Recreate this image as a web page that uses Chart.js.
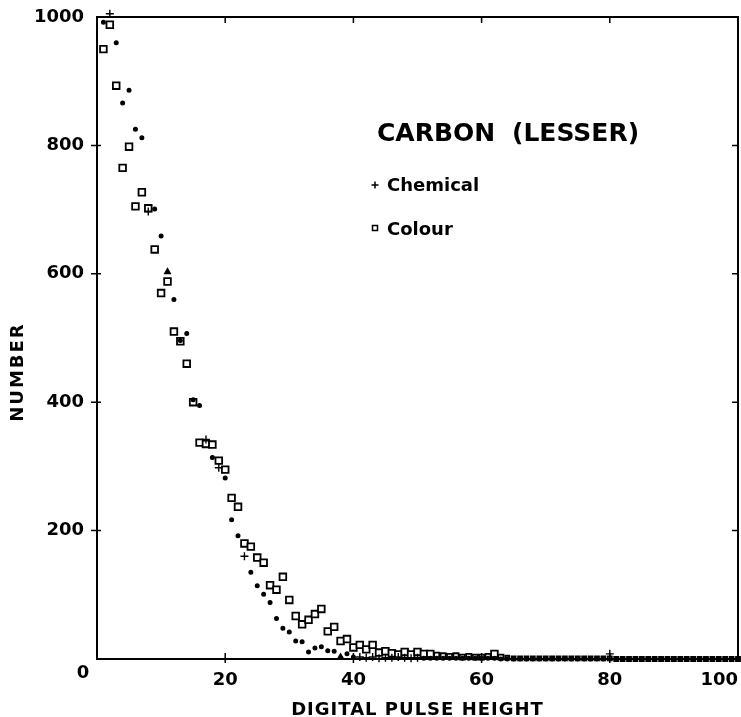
<!DOCTYPE html>
<html>
<head>
<meta charset="utf-8">
<script src="https://cdn.jsdelivr.net/npm/chart.js@4.4.0/dist/chart.umd.min.js"></script>
<style>
  html, body { margin: 0; padding: 0; background: #fff; }
</style>
</head>
<body>
<canvas id="pulseChart" width="741" height="717"></canvas>
<script>
// pulse height channels and counts per channel
var channels = [
    1, 2, 3, 4, 5, 6, 7, 8, 9, 10, 11, 12, 13, 14, 15, 16, 17, 18, 19, 20,
    21, 22, 23, 24, 25, 26, 27, 28, 29, 30, 31, 32, 33, 34, 35, 36, 37, 38, 39, 40,
    41, 42, 43, 44, 45, 46, 47, 48, 49, 50, 51, 52, 53, 54, 55, 56, 57, 58, 59, 60,
    61, 62, 63, 64, 65, 66, 67, 68, 69, 70, 71, 72, 73, 74, 75, 76, 77, 78, 79, 80,
    81, 82, 83, 84, 85, 86, 87, 88, 89, 90, 91, 92, 93, 94, 95, 96, 97, 98, 99, 100
];
var colourCounts = [
    950, 988, 893, 765, 798, 705, 727, 702, 638, 570, 588, 510, 495, 460, 400, 337, 335, 334, 309, 295,
    251, 237, 180, 175, 158, 150, 115, 108, 128, 92, 67, 54, 61, 70, 78, 43, 50, 28, 31, 18,
    22, 15, 22, 10, 12, 9, 7, 11, 7, 11, 8, 8, 6, 5, 4, 5, 3, 4, 3, 3,
    4, 8, 3, 2, 1, 1, 1, 1, 1, 1, 1, 1, 1, 1, 1, 1, 1, 1, 1, 1,
    0, 0, 0, 0, 0, 0, 0, 0, 0, 0, 0, 0, 0, 0, 0, 0, 0, 0, 0, 0
];
var chemicalCounts = [
    992, 1005, 960, 866, 886, 825, 812, 697, 701, 659, 603, 560, 496, 507, 404, 395, 342, 314, 298, 282,
    217, 192, 160, 135, 114, 101, 88, 63, 48, 42, 28, 27, 11, 17, 19, 13, 12, 3, 8, 3,
    3, 2, 3, 1, 2, 2, 3, 2, 1, 2, 1, 1, 1, 1, 1, 1, 1, 1, 1, 1,
    1, 1, 0, 0, 0, 0, 0, 0, 0, 0, 0, 0, 0, 0, 0, 0, 0, 0, 0, 8,
    0, 0, 0, 0, 0, 0, 0, 0, 0, 0, 0, 0, 0, 0, 0, 0, 0, 0, 0, 0
];
var xTicks = [0, 20, 40, 60, 80, 100];
var yTicks = [200, 400, 600, 800, 1000];

// chemical points printed as crosses / triangles, the rest are dots
var crossChannels = [2, 8, 17, 19, 23, 41, 42, 43, 44, 45, 46, 47, 48, 49, 50, 80];
var triangleChannels = [11, 38];

var FONT = '"DejaVu Sans", sans-serif';

function toPoints(values) {
    return channels.map(function (c, i) { return { x: c, y: values[i] }; });
}

var framePlugin = {
    id: 'frame',
    beforeDraw: function (chart) {
        var c = chart.ctx;
        c.save();
        c.fillStyle = '#fff';
        c.fillRect(0, 0, chart.width, chart.height);
        c.restore();
    },
    afterDraw: function (chart) {
        var c = chart.ctx, a = chart.chartArea;
        var xs = chart.scales.x, ys = chart.scales.y;
        c.save();
        c.strokeStyle = '#000';
        c.lineWidth = 2;
        c.strokeRect(a.left, a.top, a.right - a.left, a.bottom - a.top);

        // tick marks on all four sides
        c.lineWidth = 1.5;
        c.beginPath();
        yTicks.slice(0, -1).forEach(function (v) {
            var py = ys.getPixelForValue(v);
            c.moveTo(a.left - 6, py); c.lineTo(a.left + 4, py);
            c.moveTo(a.right - 6, py); c.lineTo(a.right, py);
        });
        xTicks.slice(1, -1).forEach(function (v) {
            var px = xs.getPixelForValue(v);
            c.moveTo(px, a.bottom + 4); c.lineTo(px, a.bottom - 6);
            c.moveTo(px, a.top); c.lineTo(px, a.top + 6);
        });
        c.stroke();

        c.fillStyle = '#000';
        c.textAlign = 'center';
        c.textBaseline = 'middle';
        c.font = 'bold 18px ' + FONT;
        c.fillText('0', a.left - 14, a.bottom + 14);

        // axis titles
        c.letterSpacing = '1px';
        c.fillText('DIGITAL PULSE HEIGHT', (a.left + a.right) / 2, 710);
        c.save();
        c.translate(18, 372);
        c.rotate(-Math.PI / 2);
        c.letterSpacing = '2px';
        c.fillText('NUMBER', 0, 0);
        c.restore();
        c.letterSpacing = '0px';

        // key
        c.textAlign = 'left';
        c.textBaseline = 'alphabetic';
        c.font = 'bold 25px ' + FONT;
        c.fillText('CARBON', 377, 141);
        c.fillText('(LESSER)', 512, 141);
        c.font = 'bold 18px ' + FONT;
        c.fillText('Chemical', 387, 191);
        c.fillText('Colour', 387, 235);
        Chart.helpers.drawPoint(c, { pointStyle: 'cross', radius: 3.5, rotation: 0, borderWidth: 1.5 }, 375, 185);
        c.lineWidth = 1.5;
        c.strokeRect(372.5, 225.5, 5, 5);
        c.restore();
    }
};

new Chart(document.getElementById('pulseChart'), {
    type: 'scatter',
    data: {
        datasets: [
            {
                label: 'Chemical',
                data: toPoints(chemicalCounts),
                pointStyle: function (ctx) {
                    var ch = channels[ctx.dataIndex];
                    if (crossChannels.indexOf(ch) >= 0) return 'cross';
                    if (triangleChannels.indexOf(ch) >= 0) return 'triangle';
                    return 'circle';
                },
                pointRadius: function (ctx) {
                    var ch = channels[ctx.dataIndex];
                    if (crossChannels.indexOf(ch) >= 0) return 4;
                    if (triangleChannels.indexOf(ch) >= 0) return 3.2;
                    return 1.8;
                },
                borderWidth: 1.4,
                borderColor: '#000',
                backgroundColor: '#000',
                clip: false
            },
            {
                label: 'Colour',
                data: toPoints(colourCounts),
                pointStyle: 'rect',
                pointRadius: function (ctx) {
                    var v = colourCounts[ctx.dataIndex];
                    if (v < 3) return 2.8;
                    if (v < 7) return 3.6;
                    return 4.7;
                },
                borderWidth: 1.8,
                borderColor: '#000',
                backgroundColor: '#fff',
                clip: false
            }
        ]
    },
    options: {
        responsive: false,
        animation: false,
        devicePixelRatio: 1,
        layout: { autoPadding: false, padding: { top: 17, right: 3, left: 0, bottom: 0 } },
        plugins: {
            legend: { display: false },
            tooltip: { enabled: false }
        },
        scales: {
            x: {
                type: 'linear',
                min: 0,
                max: 100,
                grid: { display: false },
                border: { display: false },
                afterBuildTicks: function (s) {
                    s.ticks = xTicks.map(function (v) { return { value: v }; });
                },
                afterFit: function (s) {
                    s.height = 58;
                    s.paddingLeft = 0;
                    s.paddingRight = 0;
                },
                ticks: {
                    align: 'inner',
                    autoSkip: false,
                    maxRotation: 0,
                    padding: 3,
                    color: '#000',
                    font: { family: FONT, size: 18, weight: 'bold' },
                    callback: function (v) { return v === 0 ? '' : String(v); }
                }
            },
            y: {
                min: 0,
                max: 1000,
                grid: { display: false },
                border: { display: false },
                afterBuildTicks: function (s) {
                    s.ticks = yTicks.map(function (v) { return { value: v }; });
                },
                afterFit: function (s) {
                    s.width = 97;
                    s.paddingTop = 0;
                    s.paddingBottom = 0;
                },
                ticks: {
                    padding: 5,
                    color: '#000',
                    font: { family: FONT, size: 18, weight: 'bold' },
                    callback: function (v) { return String(v); }
                }
            }
        }
    },
    plugins: [framePlugin]
});
</script>
</body>
</html>
